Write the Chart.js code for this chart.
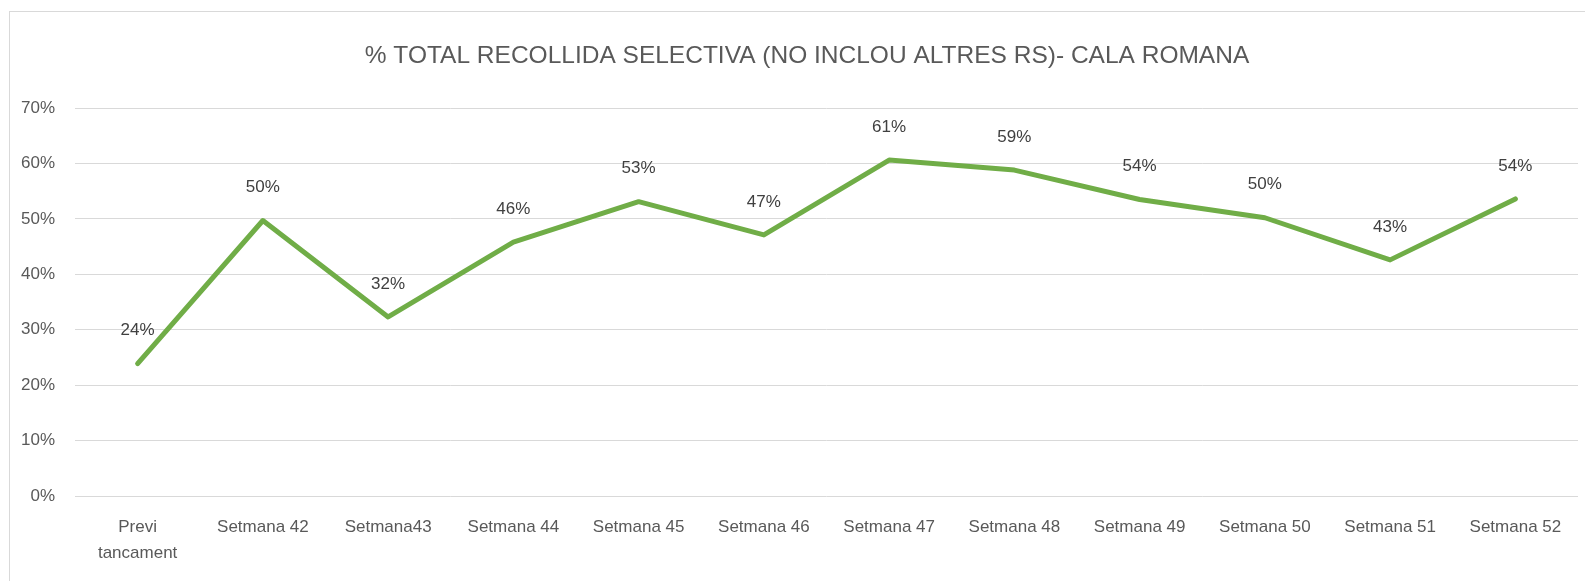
<!DOCTYPE html>
<html>
<head>
<meta charset="utf-8">
<script src="https://cdn.jsdelivr.net/npm/chart.js@4/dist/chart.umd.min.js"></script>
<style>
  html, body { margin: 0; padding: 0; background: #fff; }
  #wrap { position: relative; width: 1585px; height: 581px; }
</style>
</head>
<body>
<div id="wrap"><canvas id="chart" width="1585" height="581"></canvas></div>
<script>
// data
const categories = [
  ["Previ", "tancament"], "Setmana 42", "Setmana43", "Setmana 44", "Setmana 45", "Setmana 46",
  "Setmana 47", "Setmana 48", "Setmana 49", "Setmana 50", "Setmana 51", "Setmana 52"
];
const recollida = [23.9, 49.7, 32.3, 45.8, 53.1, 47.1, 60.6, 58.8, 53.5, 50.2, 42.6, 53.6];
const yTicks = [0, 10, 20, 30, 40, 50, 60, 70];
const titleText = "% TOTAL RECOLLIDA SELECTIVA (NO INCLOU ALTRES RS)- CALA ROMANA";

const FONT = '"Liberation Sans", Arial, sans-serif';
const GREY = "#595959";

// white background, chart frame and the title (Excel centres it a bit right of the canvas middle)
const frame = {
  id: "frame",
  beforeDraw(chart) {
    const ctx = chart.ctx;
    ctx.save();
    ctx.fillStyle = "#fff";
    ctx.fillRect(0, 0, chart.width, chart.height);
    ctx.strokeStyle = "#d9d9d9";
    ctx.lineWidth = 1;
    ctx.strokeRect(9.5, 11.5, chart.width + 20, chart.height + 20);
    ctx.font = "24.5px " + FONT;
    ctx.fillStyle = GREY;
    ctx.textAlign = "center";
    ctx.textBaseline = "middle";
    ctx.fillText(titleText, 807, 56);
    ctx.restore();
  }
};

// value labels above each point
const valueLabels = {
  id: "valueLabels",
  afterDatasetsDraw(chart) {
    const ctx = chart.ctx;
    const meta = chart.getDatasetMeta(0);
    ctx.save();
    ctx.font = "17px " + FONT;
    ctx.fillStyle = "#404040";
    ctx.textAlign = "center";
    ctx.textBaseline = "middle";
    meta.data.forEach((pt, i) => {
      ctx.fillText(Math.round(recollida[i]) + "%", pt.x, pt.y - 33);
    });
    ctx.restore();
  }
};

new Chart(document.getElementById("chart"), {
  type: "line",
  data: {
    labels: categories,
    datasets: [{
      data: recollida,
      borderColor: "#70ad47",
      borderWidth: 5,
      borderJoinStyle: "round",
      borderCapStyle: "round",
      pointRadius: 0,
      tension: 0,
      fill: false,
    }]
  },
  options: {
    responsive: false,
    animation: false,
    layout: { padding: { left: 0, right: 7, top: 108, bottom: 0 } },
    plugins: {
      legend: { display: false },
      tooltip: { enabled: false },
      title: { display: false },
    },
    scales: {
      x: {
        offset: true,
        grid: { display: false },
        border: { display: false },
        ticks: {
          color: GREY,
          font: { family: FONT, size: 17, lineHeight: 1.55 },
          padding: 10,
          maxRotation: 0,
          autoSkip: false,
        },
        afterFit(scale) { scale.height = 85; },
      },
      y: {
        min: 0,
        max: 70,
        afterBuildTicks(scale) { scale.ticks = yTicks.map(v => ({ value: v })); },
        grid: { color: "#d9d9d9", lineWidth: 1, drawTicks: false },
        border: { display: false },
        ticks: {
          color: GREY,
          font: { family: FONT, size: 17 },
          padding: 20,
          callback: v => v + "%",
        },
        afterFit(scale) { scale.width = 75; },
      }
    }
  },
  plugins: [frame, valueLabels]
});
</script>
</body>
</html>
